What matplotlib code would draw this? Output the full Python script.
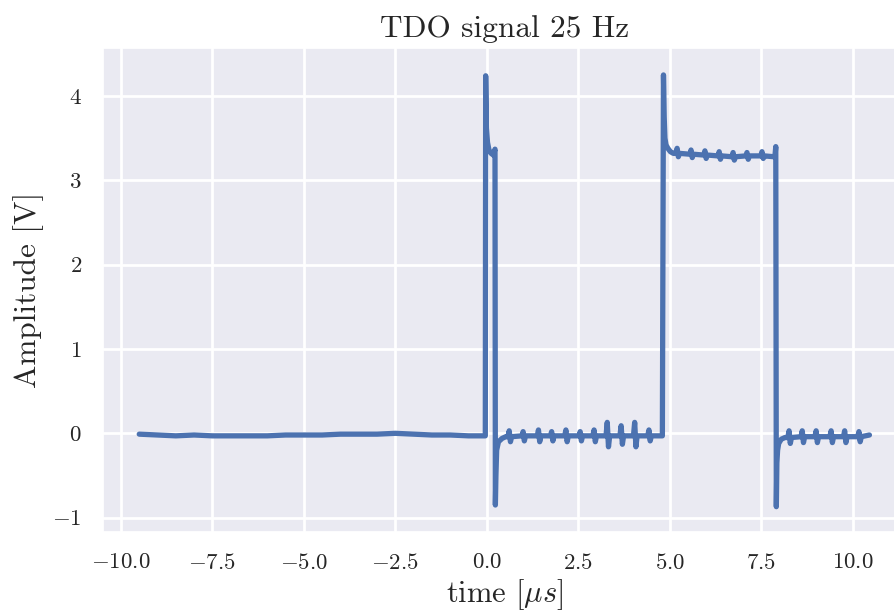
import matplotlib
matplotlib.use("Agg")
import matplotlib.pyplot as plt
import numpy as np
import seaborn as sns

# values (time in us, amplitude in V)
pre_t = [-9.5, -9.0, -8.5, -8.0, -7.5, -7.0, -6.5, -6.0, -5.5, -5.0,
         -4.5, -4.0, -3.5, -3.0, -2.5, -2.0, -1.5, -1.0, -0.5, -0.05]
pre_v = [-0.01, -0.02, -0.03, -0.02, -0.03, -0.03, -0.03, -0.03, -0.02, -0.02,
         -0.02, -0.01, -0.01, -0.01, 0.0, -0.01, -0.02, -0.02, -0.03, -0.03]

pulse1_t = [-0.04, -0.03, -0.01, 0.02, 0.06, 0.12, 0.18, 0.21, 0.225, 0.235,
            0.25, 0.27, 0.32, 0.42, 0.52]
pulse1_v = [-0.03, 4.24, 3.62, 3.45, 3.36, 3.32, 3.30, 3.35, 3.37, -0.85,
            -0.5, -0.2, -0.1, -0.06, -0.04]

ring1_t = [0.63, 1.01, 1.43, 1.79, 2.18, 2.57, 2.95, 3.31, 3.69, 4.06, 4.45]
ring1_hi = [0.03, 0.02, 0.04, 0.02, 0.04, 0.02, 0.04, 0.13, 0.09, 0.13, 0.04]
ring1_lo = [-0.10, -0.09, -0.10, -0.09, -0.10, -0.09, -0.10, -0.16, -0.13, -0.16, -0.09]
ring1_base = [-0.04, -0.03, -0.03, -0.03, -0.03, -0.03, -0.03, -0.03, -0.03, -0.03, -0.03]

pulse2_t = [4.80, 4.83, 4.85, 4.87, 4.90, 4.95, 5.02, 5.10]
pulse2_v = [-0.03, 4.25, 3.75, 3.50, 3.42, 3.38, 3.34, 3.32]

ring2_t = [5.22, 5.60, 5.98, 6.37, 6.75, 7.13, 7.54]
ring2_hi = [3.38, 3.36, 3.35, 3.34, 3.33, 3.33, 3.34]
ring2_lo = [3.28, 3.27, 3.26, 3.25, 3.24, 3.25, 3.26]
ring2_base = [3.32, 3.31, 3.30, 3.29, 3.28, 3.29, 3.29]

fall_t = [7.85, 7.88, 7.90, 7.915, 7.93, 7.95, 7.98, 8.05, 8.15]
fall_v = [3.28, 3.30, 3.40, -0.87, -0.35, -0.20, -0.12, -0.07, -0.05]

ring3_t = [8.28, 8.64, 9.02, 9.43, 9.80, 10.19]
ring3_hi = [0.03, 0.03, 0.03, 0.03, 0.03, 0.02]
ring3_lo = [-0.12, -0.11, -0.11, -0.11, -0.11, -0.10]
ring3_base = [-0.05, -0.04, -0.04, -0.04, -0.04, -0.04]

end_t = [10.46]
end_v = [-0.02]


def ringing(tc, hi, lo, base):
    t, v = [], []
    for c, h, l, b in zip(tc, hi, lo, base):
        t += [c - 0.05, c - 0.017, c + 0.017, c + 0.05]
        v += [b, h, l, b]
    return t, v


r1t, r1v = ringing(ring1_t, ring1_hi, ring1_lo, ring1_base)
r2t, r2v = ringing(ring2_t, ring2_hi, ring2_lo, ring2_base)
r3t, r3v = ringing(ring3_t, ring3_hi, ring3_lo, ring3_base)

time = np.array(pre_t + pulse1_t + r1t + pulse2_t + r2t + fall_t + r3t + end_t)
amp = np.array(pre_v + pulse1_v + r1v + pulse2_v + r2v + fall_v + r3v + end_v)

sns.set_theme(style="darkgrid")
plt.rcParams['font.family'] = 'serif'
plt.rcParams['font.serif'] = ['cmr10']
plt.rcParams['mathtext.fontset'] = 'cm'
plt.rcParams['axes.formatter.use_mathtext'] = True
plt.rcParams['grid.linewidth'] = 2.0

fig = plt.figure(figsize=(8.95, 6.15), dpi=100)
ax = fig.add_axes([0.1147, 0.135, 0.8976, 0.787])
ax.plot(time, amp, color='#4C72B0', lw=3.8, solid_joinstyle='round',
        solid_capstyle='round')

ax.set_xlim(-10.5, 11.46)
ax.set_ylim(-1.17, 4.57)
ax.set_xticks([-10, -7.5, -5, -2.5, 0, 2.5, 5, 7.5, 10])
ax.set_yticks([-1, 0, 1, 2, 3, 4])
ax.tick_params(axis='both', length=0, pad=15, labelsize=16.5, labelcolor='#262626')

ax.set_title('TDO signal 25 Hz', fontsize=22.5, color='#262626', pad=8)
ax.set_xlabel(r'time [$\mu s$]', fontsize=22, color='#262626', labelpad=3)
ax.set_ylabel('Amplitude [V]', fontsize=22.5, color='#262626', labelpad=6)

plt.savefig('out.png', dpi=100)
